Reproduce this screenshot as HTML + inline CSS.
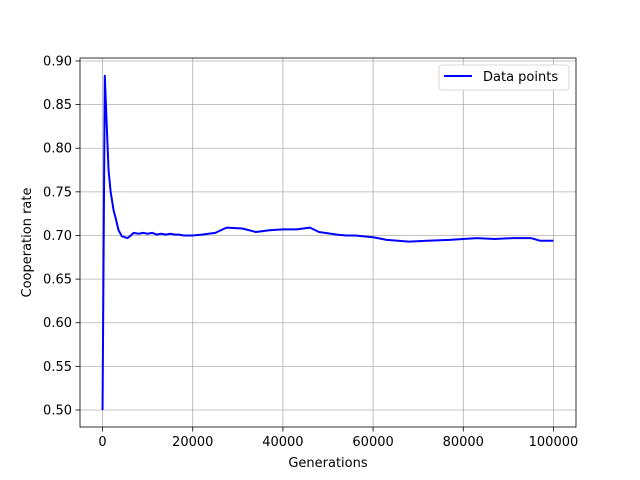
<!DOCTYPE html>
<html><head><meta charset="utf-8"><style>body{margin:0;background:#fff}svg{display:block;font-family:"DejaVu Sans","Liberation Sans",sans-serif}</style></head>
<body>
<svg id="c" width="640" height="480"></svg>
<script>
const gens=[0,500,900,1330,1800,2440,3000,3550,4300,5540,6300,6870,8000,9000,10000,11000,12000,13000,14000,15000,16000,17000,18000,20000,22000,25000,27500,31000,34000,37000,40000,43000,46000,48000,52000,54000,56000,60000,63000,68000,72000,77000,80000,83000,87000,91000,95000,97000,100000];
const rates=[0.5,0.883,0.83,0.775,0.75,0.729,0.718,0.706,0.699,0.697,0.700,0.703,0.702,0.703,0.702,0.703,0.701,0.702,0.701,0.702,0.701,0.701,0.700,0.700,0.701,0.703,0.709,0.708,0.704,0.706,0.707,0.707,0.709,0.704,0.701,0.700,0.700,0.698,0.695,0.693,0.694,0.695,0.696,0.697,0.696,0.697,0.697,0.694,0.694];
const xTicks=[0,20000,40000,60000,80000,100000];
const yTicks=[0.50,0.55,0.60,0.65,0.70,0.75,0.80,0.85,0.90];
const L=80,R=576,T=58,B=427;
const x=v=>L+(v+5000)/110000*(R-L);
const y=v=>B-(v-0.4805)/(0.9034-0.4805)*(B-T);
const s=document.getElementById('c');const NS='http://www.w3.org/2000/svg';
function el(t,a,p){const e=document.createElementNS(NS,t);for(const k in a)e.setAttribute(k,a[k]);(p||s).appendChild(e);return e;}
xTicks.forEach(v=>{const g=el('line',{x1:x(v),x2:x(v),y1:T,y2:B,stroke:'#b0b0b0','stroke-width':0.8});

el('line',{x1:x(v),x2:x(v),y1:B,y2:B+4.5,stroke:'#000','stroke-width':0.8});
const t=el('text',{x:x(v),y:B+19,'font-size':13,'text-anchor':'middle'});t.textContent=v;
});
yTicks.forEach(v=>{const g=el('line',{x1:L,x2:R,y1:y(v),y2:y(v),stroke:'#b0b0b0','stroke-width':0.8});

el('line',{x1:L-4.5,x2:L,y1:y(v),y2:y(v),stroke:'#000','stroke-width':0.8});
const t=el('text',{x:L-8,y:y(v)+4.5,'font-size':13,'text-anchor':'end'});t.textContent=v.toFixed(2);
});
const p=el('polyline',{points:gens.map((g,i)=>x(g)+','+y(rates[i])).join(' '),fill:'none',stroke:'#0000ff','stroke-width':2,'stroke-linejoin':'round'});

const f=el('rect',{x:L,y:T,width:R-L,height:B-T,fill:'none',stroke:'#000','stroke-width':0.8});

const xl=el('text',{x:(L+R)/2,y:467,'font-size':13,'text-anchor':'middle'});xl.textContent='Generations';

const yl=el('text',{x:0,y:0,'font-size':13,'text-anchor':'middle',transform:`translate(31,${(T+B)/2}) rotate(-90)`});yl.textContent='Cooperation rate';

const lg=el('g',{});
el('rect',{x:439,y:65,width:130,height:25,rx:3,fill:'#fff',stroke:'#ccc','stroke-width':0.8},lg);
el('line',{x1:444,x2:472,y1:76,y2:76,stroke:'#0000ff','stroke-width':2},lg);
const lt=el('text',{x:483,y:81,'font-size':13},lg);lt.textContent='Data points';

</script>
</body></html>
